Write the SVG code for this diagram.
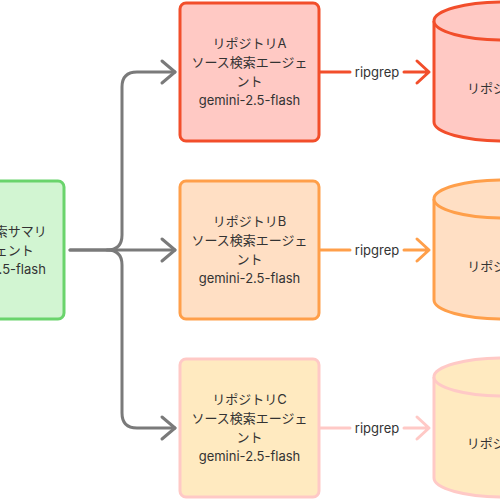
<svg xmlns="http://www.w3.org/2000/svg" width="500" height="500" viewBox="0 0 500 500">
<style>
text{font-family:Inter,"Noto Sans CJK JP",sans-serif;font-size:13px;fill:#333;text-anchor:middle}
.box{stroke-width:3}
.g{fill:#d2f5d2;stroke:#6ad46c}
.a{fill:#ffc9c4;stroke:#f24e2b}
.b{fill:#ffdfc4;stroke:#ff9f4a}
.c{fill:#ffeac0;stroke:#ffc9c6}
.conn{fill:none;stroke:#7a7a7a;stroke-width:3;stroke-linecap:round;stroke-linejoin:round}
.e{fill:none;stroke-width:3;stroke-linecap:round;stroke-linejoin:round}
</style>
<rect width="500" height="500" fill="#ffffff"/>
<g id="connectors">
<path class="conn" d="M70,250 H175"/>
<path class="conn" d="M70,250 H107 Q122,250 122,235 V87 Q122,72 137,72 H175"/>
<path class="conn" d="M107,250 Q122,250 122,265 V413 Q122,428 137,428 H175"/>
<path class="conn" d="M162,61 L175,72 L162,83"/>
<path class="conn" d="M162,239 L175,250 L162,261"/>
<path class="conn" d="M162,417 L175,428 L162,439"/>
<g id="edgeA">
<path class="e" stroke="#f24e2b" d="M320,72 H350 M404,72 H429 M417,61 L429,72 L417,83"/>
<text x="377" y="76.5">ripgrep</text>
</g>
<g id="edgeB">
<path class="e" stroke="#ff9f4a" d="M320,250 H350 M404,250 H429 M417,239 L429,250 L417,261"/>
<text x="377" y="254.5">ripgrep</text>
</g>
<g id="edgeC">
<path class="e" stroke="#ffc9c6" d="M320,428 H350 M404,428 H429 M417,417 L429,428 L417,439"/>
<text x="377" y="432.5">ripgrep</text>
</g>
</g>
<g id="summary">
<rect class="box g" x="-74" y="181" width="138" height="138" rx="6"/>
<text x="-5" y="235.5">ソース検索サマリ</text>
<text x="-5" y="254.5">エージェント</text>
<text x="-5" y="273.5">gemini-2.5-flash</text>
</g>
<g id="agentA">
<rect class="box a" x="180" y="3" width="139" height="138" rx="6"/>
<text x="249.5" y="47.5">リポジトリA</text>
<text x="249.5" y="66.5">ソース検索エージェ</text>
<text x="249.5" y="85.5">ント</text>
<text x="249.5" y="104.5">gemini-2.5-flash</text>
</g>
<g id="agentB">
<rect class="box b" x="180" y="181" width="139" height="138" rx="6"/>
<text x="249.5" y="225.5">リポジトリB</text>
<text x="249.5" y="244.5">ソース検索エージェ</text>
<text x="249.5" y="263.5">ント</text>
<text x="249.5" y="282.5">gemini-2.5-flash</text>
</g>
<g id="agentC">
<rect class="box c" x="180" y="359" width="139" height="138" rx="6"/>
<text x="249.5" y="403.5">リポジトリC</text>
<text x="249.5" y="422.5">ソース検索エージェ</text>
<text x="249.5" y="441.5">ント</text>
<text x="249.5" y="460.5">gemini-2.5-flash</text>
</g>
<g id="repoA">
<path class="box a" d="M434,21 V122 A70,19 0 0 0 574,122 V21"/>
<ellipse class="box a" cx="504" cy="21" rx="70" ry="19"/>
<text x="504" y="92.5">リポジトリA</text>
</g>
<g id="repoB">
<path class="box b" d="M434,199 V300 A70,19 0 0 0 574,300 V199"/>
<ellipse class="box b" cx="504" cy="199" rx="70" ry="19"/>
<text x="504" y="270.5">リポジトリB</text>
</g>
<g id="repoC">
<path class="box c" d="M434,377 V478 A70,19 0 0 0 574,478 V377"/>
<ellipse class="box c" cx="504" cy="377" rx="70" ry="19"/>
<text x="504" y="447.5">リポジトリC</text>
</g>
</svg>
